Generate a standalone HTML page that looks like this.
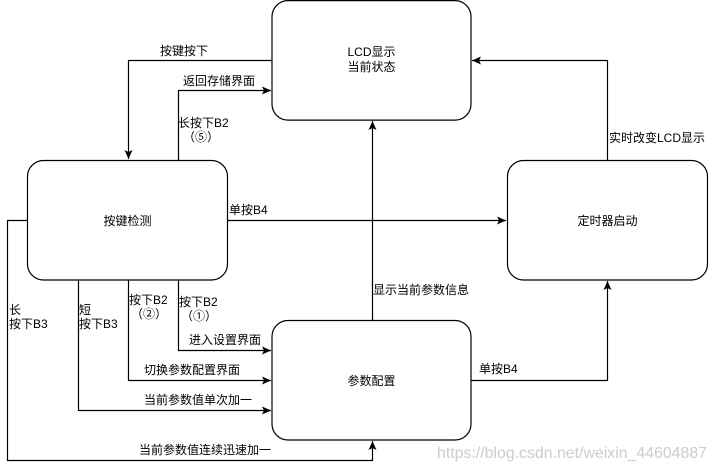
<!DOCTYPE html>
<html><head><meta charset="utf-8"><style>
body{margin:0;background:#fff}
svg text{font-family:"Liberation Sans","Noto Sans CJK SC",sans-serif;font-size:12px;fill:#000}
</style></head><body>
<svg width="718" height="469" viewBox="0 0 718 469" xmlns="http://www.w3.org/2000/svg">
<defs><marker id="a" markerWidth="10" markerHeight="8" refX="9" refY="4" orient="auto" markerUnits="userSpaceOnUse"><path d="M0,0 L9,4 L0,8 L2,4 z" fill="#000"/></marker></defs>
<g fill="#fff" stroke="#000" stroke-width="1.2">
<rect x="272" y="0.6" width="199" height="119.5" rx="16"/>
<rect x="27.5" y="160.5" width="200" height="119.5" rx="16"/>
<rect x="507.5" y="160.5" width="200" height="119.5" rx="16"/>
<rect x="272" y="320.5" width="199" height="119.5" rx="16"/>
</g>
<g fill="none" stroke="#000" stroke-width="1.2" marker-end="url(#a)">
<path d="M272,60.5 H128.5 V159"/>
<path d="M178.5,160 V90.5 H271"/>
<path d="M228,220.5 H506"/>
<path d="M607.5,160 V60.5 H472"/>
<path d="M372.5,320 V121"/>
<path d="M471,380.5 H607.5 V281"/>
<path d="M178.5,280 V350.5 H271"/>
<path d="M128.5,280 V380.5 H271"/>
<path d="M78.5,280 V410.5 H271"/>
<path d="M27,220.5 H7.5 V460.5 H372.5 V441"/>
</g>
<text x="160" y="55">按键按下</text>
<text x="183" y="85">返回存储界面</text>
<text x="178" y="127">长按下B2</text>
<text x="183" y="141">（⑤）</text>
<text x="229" y="214">单按B4</text>
<text x="609" y="142">实时改变LCD显示</text>
<text x="373" y="294">显示当前参数信息</text>
<text x="479" y="373">单按B4</text>
<text x="9" y="314">长</text>
<text x="9" y="328">按下B3</text>
<text x="79" y="314">短</text>
<text x="79" y="328">按下B3</text>
<text x="129" y="304">按下B2</text>
<text x="131" y="318">（②）</text>
<text x="179" y="306">按下B2</text>
<text x="181" y="320">（①）</text>
<text x="189" y="344">进入设置界面</text>
<text x="144" y="374">切换参数配置界面</text>
<text x="144" y="404">当前参数值单次加一</text>
<text x="139" y="454">当前参数值连续迅速加一</text>
<text x="371.5" y="56" text-anchor="middle">LCD显示</text>
<text x="371.5" y="71" text-anchor="middle">当前状态</text>
<text x="127.5" y="225" text-anchor="middle">按键检测</text>
<text x="607.5" y="225" text-anchor="middle">定时器启动</text>
<text x="371.5" y="385" text-anchor="middle">参数配置</text>
<text x="437" y="458" textLength="270" lengthAdjust="spacingAndGlyphs" style="fill:#ccc;font-size:16px">https://blog.csdn.net/weixin_44604887</text>
</svg>
</body></html>
